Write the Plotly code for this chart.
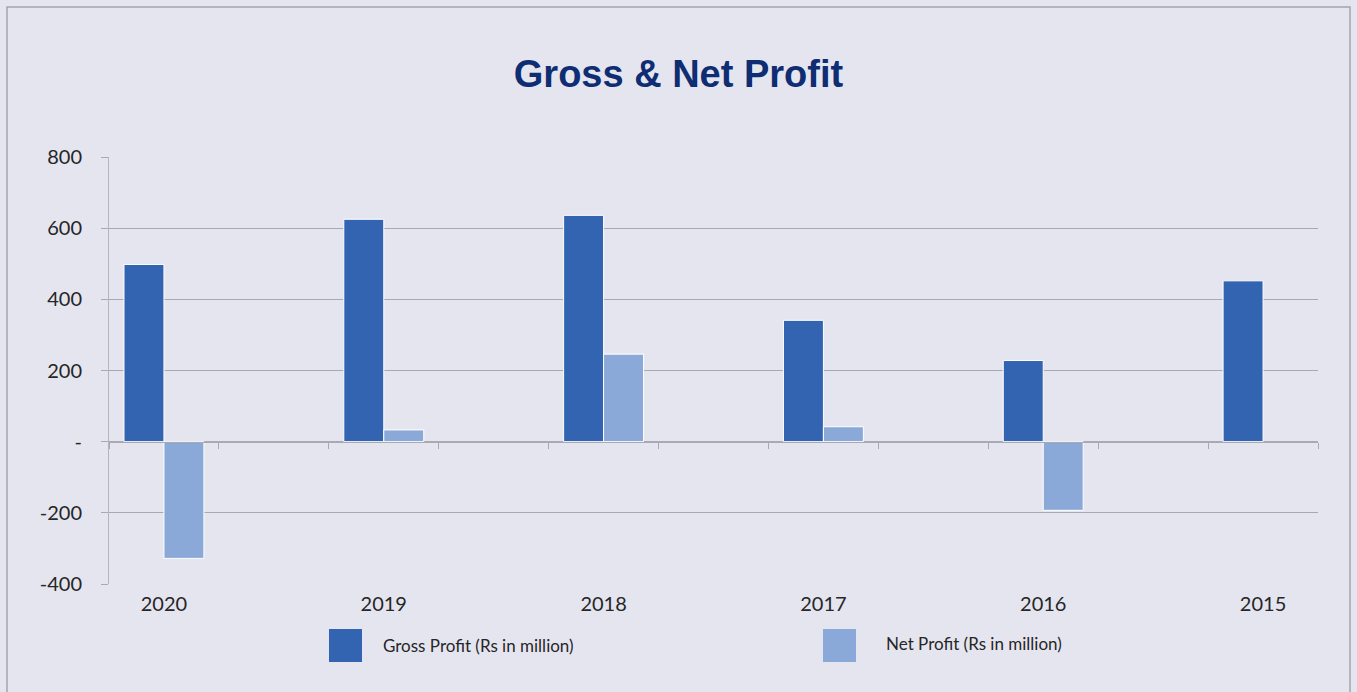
import plotly.graph_objects as go

years = ["2020", "2019", "2018", "2017", "2016", "2015"]
gross_profit = [498, 625, 636, 341, 228, 452]
net_profit = [-328, 33, 246, 42, -193, None]
y_tickvals = [-400, -200, 0, 200, 400, 600, 800]
y_ticktext = ["-400", "-200", "-", "200", "400", "600", "800"]
series_names = ["Gross Profit (Rs in million)", "Net Profit (Rs in million)"]

W, H = 1357, 692
L, R, T, B = 109, 39, 157, 108
PW, PH = W - L - R, H - T - B

def px(x):
    return (x - L) / PW

def py(y):
    return (H - B - y) / PH

GROSS_C = "#3264B1"
NET_C = "#8BA9D8"
GRID_C = "#A9A9B4"
BG = "#E5E5F0"

# each year occupies every other slot (blank slot between years)
xpos = [2 * i for i in range(len(years))]
nslots = 2 * len(years) - 1
bw = 0.3636

fig = go.Figure()
fig.add_trace(go.Bar(x=xpos, y=gross_profit, name=series_names[0], width=bw, offset=-bw,
                     marker=dict(color=GROSS_C, line=dict(color="white", width=1)), showlegend=False))
fig.add_trace(go.Bar(x=xpos, y=net_profit, name=series_names[1], width=bw, offset=0,
                     marker=dict(color=NET_C, line=dict(color="white", width=1)), showlegend=False))
# invisible trace to anchor the zero-line axis
fig.add_trace(go.Scatter(x=[xpos[0]], y=[0], xaxis="x2", mode="markers",
                         marker=dict(opacity=0), showlegend=False, hoverinfo="skip"))

font_ticks = dict(family="Lato, Open Sans, sans-serif", size=20, color="#262626")
fig.update_layout(
    width=W, height=H,
    margin=dict(l=L, r=R, t=T, b=B),
    paper_bgcolor=BG, plot_bgcolor=BG,
    barmode="overlay",
    title=dict(text="<b>Gross &amp; Net Profit</b>", x=0.5, xref="container", xanchor="center",
               y=1 - 74 / H, yref="container", yanchor="middle",
               font=dict(family="Liberation Sans, Arial, sans-serif", size=38, color="#0E2D72")),
    xaxis=dict(range=[-0.5, nslots - 0.5], tickvals=xpos, ticktext=years, showgrid=False,
               zeroline=False, showline=False, ticks="", tickfont=font_ticks, ticklabelstandoff=6),
    xaxis2=dict(range=[-0.5, nslots - 0.5], overlaying="x", anchor="free",
                position=(0 - y_tickvals[0]) / (y_tickvals[-1] - y_tickvals[0]),
                showline=True, linecolor=GRID_C, linewidth=1, showgrid=False, zeroline=False,
                tickvals=[i - 0.5 for i in range(nslots + 1)], ticks="outside", ticklen=6,
                tickcolor=GRID_C, showticklabels=False),
    yaxis=dict(range=[y_tickvals[0], y_tickvals[-1]], tickvals=y_tickvals, ticktext=y_ticktext,
               showgrid=True, gridcolor=GRID_C, gridwidth=1, zeroline=False,
               showline=True, linecolor="#B4B4BE", linewidth=1,
               ticks="outside", ticklen=7, tickcolor=GRID_C, tickfont=font_ticks,
               ticklabelstandoff=15),
)

shapes = [
    # outer border
    dict(type="rect", xref="paper", yref="paper", x0=px(7), x1=px(1350), y0=py(7), y1=py(710),
         line=dict(color="#A4A4AC", width=1.5), fillcolor="rgba(0,0,0,0)", layer="below"),
    # legend swatches
    dict(type="rect", xref="paper", yref="paper", x0=px(329), x1=px(362), y0=py(662), y1=py(629),
         line=dict(width=0), fillcolor=GROSS_C),
    dict(type="rect", xref="paper", yref="paper", x0=px(823), x1=px(856), y0=py(662), y1=py(629),
         line=dict(width=0), fillcolor=NET_C),
]
legend_font = dict(family="Lato, Open Sans, sans-serif", size=17, color="#262626")
annotations = [
    dict(text=series_names[0], xref="paper", yref="paper", x=px(381), y=py(645),
         xanchor="left", yanchor="middle", showarrow=False, font=legend_font),
    dict(text=series_names[1], xref="paper", yref="paper", x=px(884), y=py(643),
         xanchor="left", yanchor="middle", showarrow=False, font=legend_font),
]
fig.update_layout(shapes=shapes, annotations=annotations)

fig.write_html("out.html", config={"displayModeBar": False},
               post_script="document.body.style.margin='0';document.body.style.overflow='hidden';")
